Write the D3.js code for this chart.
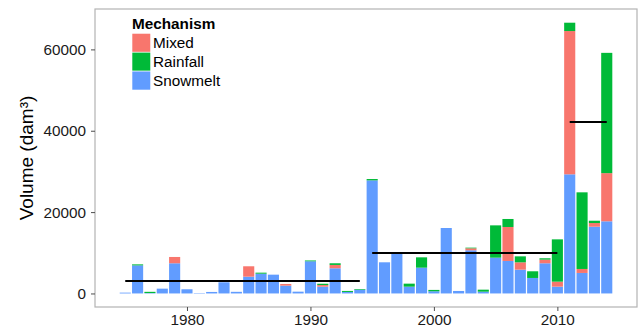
<!DOCTYPE html>
<html>
<head>
<meta charset="utf-8">
<script src="https://cdn.jsdelivr.net/npm/d3@7"></script>
<style>
  html, body { margin: 0; padding: 0; background: #fff; }
  svg { display: block; font-family: "Liberation Sans", Arial, Helvetica, sans-serif; }
</style>
</head>
<body>
<svg id="chart" width="640" height="328"></svg>
<script>
// Annual runoff volume by generating mechanism (dam³)
const years = [1975,1976,1977,1978,1979,1980,1981,1982,1983,1984,
               1985,1986,1987,1988,1989,1990,1991,1992,1993,1994,
               1995,1996,1997,1998,1999,2000,2001,2002,2003,2004,
               2005,2006,2007,2008,2009,2010,2011,2012,2013,2014];
const snowmelt = [200,6900,100,1180,7420,1030,100,370,2750,400,
                  4130,4860,4620,1920,440,7910,1670,6190,370,930,
                  27800,7660,9850,1670,6340,540,16090,610,10610,440,
                  8800,7990,5850,3810,7420,1670,29290,5040,16410,17740];
const mixed = [0,0,0,0,1550,0,0,0,0,0,
               2550,0,0,410,0,0,400,820,0,0,
               0,0,0,0,0,0,0,0,490,0,
               0,8350,1800,0,900,1230,35220,980,900,11840];
const rainfall = [0,250,300,0,0,0,0,0,0,0,
                  0,250,0,0,0,200,320,410,250,160,
                  330,0,0,740,2540,330,0,0,160,490,
                  7940,1970,1470,1640,330,10400,2050,18840,570,29570];

// Period means drawn as horizontal segments
const periodStart = [1975, 1995, 2011];
const periodEnd   = [1994, 2010, 2014];
const periodMean  = [3050, 9950, 42120];

const mechanisms = ["Mixed", "Rainfall", "Snowmelt"];
const colours = ["#F8766D", "#00BA38", "#619CFF"];
const yTicks = [0, 20000, 40000, 60000];
const xTicks = [1980, 1990, 2000, 2010];

const svg = d3.select("#chart");
const panel = { left: 95, right: 637, top: 9, bottom: 307 };

const x = d3.scaleLinear().domain([1972.55, 2016.45]).range([panel.left, panel.right]);
const y = d3.scaleLinear().domain([-3330, 69930]).range([panel.bottom, panel.top]);
const colour = d3.scaleOrdinal().domain(mechanisms).range(colours);

// Stack: snowmelt at the bottom, then mixed, then rainfall on top
const rows = years.map((yr, i) => ({ year: yr, Snowmelt: snowmelt[i], Mixed: mixed[i], Rainfall: rainfall[i] }));
const stack = d3.stack().keys(["Snowmelt", "Mixed", "Rainfall"]);
const layers = stack(rows);

// Panel background
svg.append("rect")
  .attr("x", panel.left).attr("y", panel.top)
  .attr("width", panel.right - panel.left).attr("height", panel.bottom - panel.top)
  .attr("fill", "#fff");

const barW = x(0.9) - x(0);
svg.append("g").selectAll("g")
  .data(layers)
  .join("g")
  .attr("fill", d => colour(d.key))
  .selectAll("rect")
  .data(d => d.filter(s => s[1] > s[0]))
  .join("rect")
  .attr("x", d => x(d.data.year) - barW / 2)
  .attr("width", barW)
  .attr("y", d => y(d[1]))
  .attr("height", d => y(d[0]) - y(d[1]));

// Period mean segments
svg.append("g").selectAll("line")
  .data(periodMean.map((m, i) => ({ s: periodStart[i], e: periodEnd[i], m })))
  .join("line")
  .attr("x1", d => x(d.s)).attr("x2", d => x(d.e))
  .attr("y1", d => y(d.m)).attr("y2", d => y(d.m))
  .attr("stroke", "#000").attr("stroke-width", 2);

// Panel border
svg.append("rect")
  .attr("x", panel.left).attr("y", panel.top)
  .attr("width", panel.right - panel.left).attr("height", panel.bottom - panel.top)
  .attr("fill", "none").attr("stroke", "#b3b3b3").attr("stroke-width", 1.2);

// Axes
const yAxis = svg.append("g").attr("transform", `translate(${panel.left},0)`)
  .call(d3.axisLeft(y).tickValues(yTicks).tickFormat(d3.format("d")).tickSize(4).tickPadding(5));
const xAxis = svg.append("g").attr("transform", `translate(0,${panel.bottom})`)
  .call(d3.axisBottom(x).tickValues(xTicks).tickFormat(d3.format("d")).tickSize(4).tickPadding(3.5));
[yAxis, xAxis].forEach(a => {
  a.select(".domain").remove();
  a.selectAll(".tick line").attr("stroke", "#4d4d4d");
  a.selectAll(".tick text").attr("fill", "#1a1a1a").style("font-size", "15.3px");
});

// Y axis title
svg.append("text")
  .attr("transform", `translate(33,${(panel.top + panel.bottom) / 2}) rotate(-90)`)
  .attr("text-anchor", "middle")
  .style("font-size", "19px")
  .attr("fill", "#000")
  .text("Volume (dam³)");

// Legend
const legend = svg.append("g").attr("transform", "translate(132,15)");
legend.append("text")
  .attr("x", 0).attr("y", 13.5)
  .style("font-size", "15.3px").style("font-weight", "bold")
  .text("Mechanism");
const item = legend.selectAll("g.item")
  .data(mechanisms)
  .join("g").attr("class", "item")
  .attr("transform", (d, i) => `translate(0,${18.3 + i * 18.9})`);
item.append("rect")
  .attr("width", 18.7).attr("height", 18.9)
  .attr("fill", d => colour(d))
  .attr("stroke", "#fff").attr("stroke-width", 0.6);
item.append("text")
  .attr("x", 21).attr("y", 15)
  .style("font-size", "15.3px")
  .attr("fill", "#000")
  .text(d => d);
</script>
</body>
</html>
